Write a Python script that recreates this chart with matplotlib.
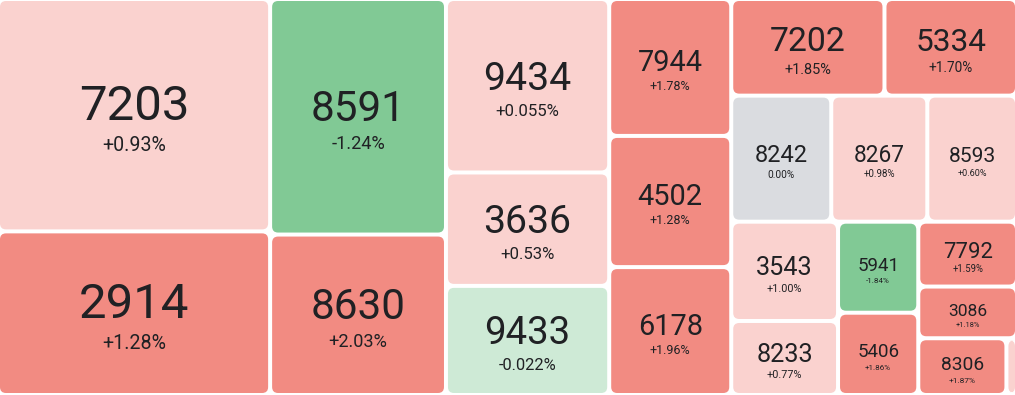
import matplotlib.pyplot as plt
from matplotlib.patches import FancyBboxPatch

# 銘柄コード・騰落率・サイズ（面積）
labels = ["7203", "2914", "8591", "8630", "9434", "3636", "9433", "7944", "4502",
          "6178", "7202", "5334", "8242", "8267", "8593", "3543", "8233", "5941",
          "5406", "7792", "3086", "8306", ""]
changes = [0.93, 1.28, -1.24, 2.03, 0.055, 0.53, -0.022, 1.78, 1.28,
           1.96, 1.85, 1.70, 0.00, 0.98, 0.60, 1.00, 0.77, -1.84,
           1.86, 1.59, 1.18, 1.87, 0.5]
change_text = ["+0.93%", "+1.28%", "-1.24%", "+2.03%", "+0.055%", "+0.53%", "-0.022%",
               "+1.78%", "+1.28%", "+1.96%", "+1.85%", "+1.70%", "0.00%", "+0.98%",
               "+0.60%", "+1.00%", "+0.77%", "-1.84%", "+1.86%", "+1.59%", "+1.18%",
               "+1.87%", ""]
sizes = [632, 445, 414, 282, 283, 185, 178, 167, 160, 156, 148, 128, 126, 121,
         113, 106, 79, 73, 66, 64, 51, 50, 6]
# グループ構造（インデックスの入れ子）
tree = [[0, 1], [2, 3], [4, 5, 6], [7, 8, 9],
        [[10, 11], [12, 13, 14], [[15, 16], [17, 18], [19, 20, [21, 22]]]]]


def total(node):
    if isinstance(node, int):
        return sizes[node]
    return sum(total(n) for n in node)


def layout(node, x, y, w, h, depth, out):
    if isinstance(node, int):
        out[node] = (x, y, w, h)
        return
    s = total(node)
    pos = 0.0
    for child in node:
        f = total(child) / s
        if depth % 2 == 0:
            layout(child, x + pos * w, y, f * w, h, depth + 1, out)
        else:
            layout(child, x, y + pos * h, w, f * h, depth + 1, out)
        pos += f


def color_of(c):
    if c > 1.0:
        return "#F28B82"
    if c > 0:
        return "#FAD2CF"
    if c == 0:
        return "#DADCE0"
    if c >= -1.0:
        return "#CEEAD6"
    return "#81C995"


def main():
    plt.rcParams['font.family'] = ['Roboto', 'DejaVu Sans']
    fig = plt.figure(figsize=(10.15, 3.95), dpi=100)
    ax = fig.add_axes([0, 0, 1, 1])
    ax.set_xlim(0, 1015)
    ax.set_ylim(395, 0)
    ax.axis('off')

    rects = {}
    layout(tree, -2, -1, 1019, 396, 0, rects)

    gap = 2
    for i, (x, y, w, h) in rects.items():
        tx, ty, tw, th = x + gap, y + gap, w - 2 * gap, h - 2 * gap
        box = FancyBboxPatch((tx, ty), tw, th,
                             boxstyle="round,pad=0,rounding_size=6",
                             fc=color_of(changes[i]), ec='none')
        ax.add_patch(box)
        if tw < 30 or not labels[i]:
            continue
        # 文字サイズはタイルの大きさから
        cap = min(0.175 * tw, 0.26 * th, 35)
        pcap = min(0.43 * cap, 14)
        gap_t = 0.5 * cap
        block = cap + gap_t + pcap
        cy = ty + th / 2 + 3
        top = cy - block / 2
        ax.text(tx + tw / 2, top + cap, labels[i], ha='center', va='baseline',
                fontsize=cap * 1.01, color='#202124')
        ax.text(tx + tw / 2, top + block, change_text[i], ha='center', va='baseline',
                fontsize=pcap * 1.01, color='#202124')

    fig.savefig('out.png', dpi=100)


if __name__ == '__main__':
    main()
